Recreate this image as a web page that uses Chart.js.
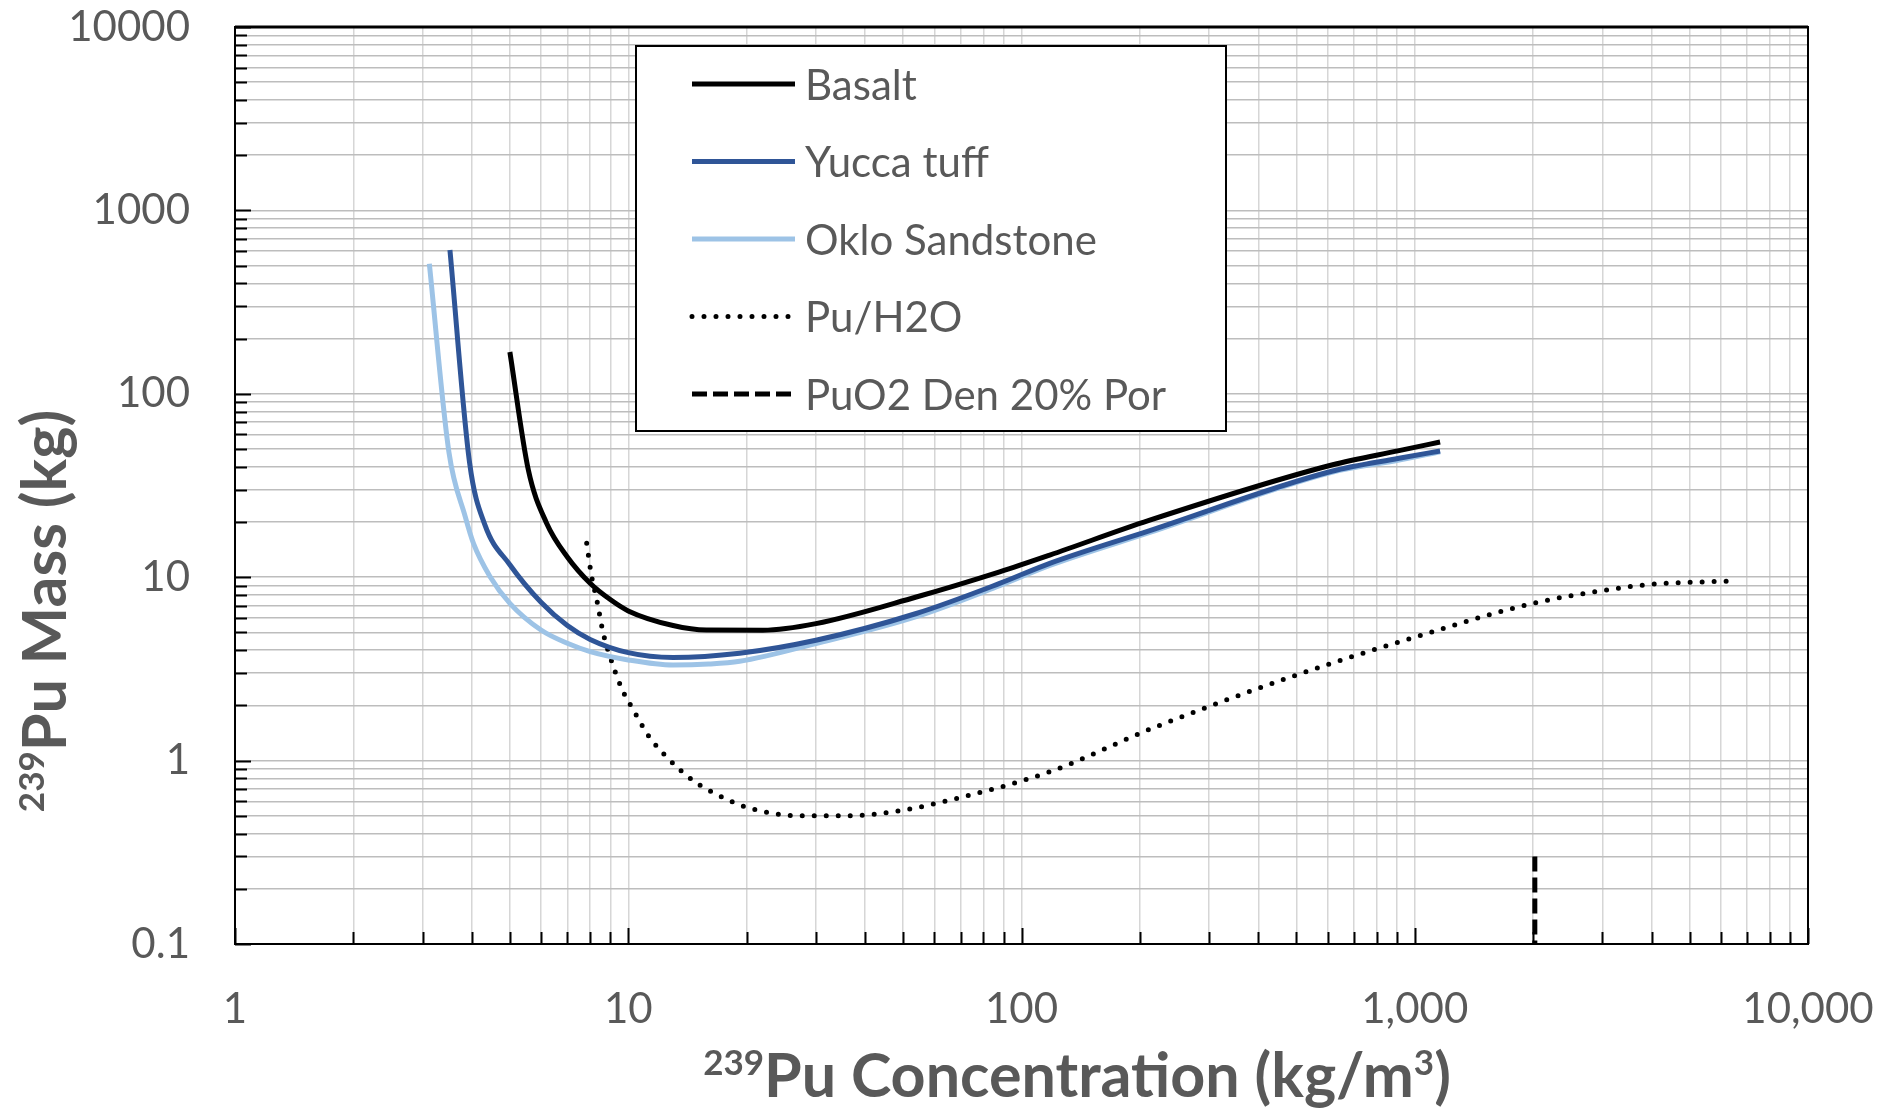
<!DOCTYPE html>
<html>
<head>
<meta charset="utf-8">
<title>239Pu mass vs concentration</title>
<script src="https://cdn.jsdelivr.net/npm/chart.js@4.4.1/dist/chart.umd.min.js"></script>
<style>
  html, body { margin: 0; padding: 0; background: #fff; }
  #wrap { width: 1888px; height: 1108px; position: relative; }
</style>
</head>
<body>
<div id="wrap"><canvas id="chart"></canvas></div>
<script>
// --- data (x: kg/m3, y: kg) ---
const basaltX = [5.0, 5.57, 6.2, 7, 8, 9, 10, 13, 15.8, 22, 30, 54, 88, 118, 211, 615, 912, 1160];
const basaltY = [169, 38.5, 19.7, 12.9, 9.27, 7.55, 6.55, 5.45, 5.15, 5.14, 5.58, 7.8, 10.7, 13.2, 20.4, 40.9, 49, 54.6];

const yuccaX = [3.52, 3.95, 4.32, 5.0, 6, 7, 8, 10, 13, 19.2, 30, 54, 88, 118, 211, 615, 912, 1160];
const yuccaY = [608, 42, 19.3, 11.7, 7.3, 5.45, 4.58, 3.88, 3.65, 3.85, 4.53, 6.34, 9.25, 11.9, 17.9, 37.8, 44.5, 48.8];

const okloX = [3.12, 3.5, 3.85, 4.04, 4.45, 5, 6, 7, 8, 10, 13, 16, 19.2, 30, 54, 88, 118, 211, 615, 912, 1160];
const okloY = [512, 48, 21.4, 15.3, 10.1, 7.2, 5.15, 4.36, 3.93, 3.54, 3.32, 3.36, 3.48, 4.35, 6.1, 9.0, 11.6, 17.5, 37.3, 43.5, 48.3];

const puH2oX = [7.84, 8.07, 8.32, 8.64, 8.99, 9.62, 10.3, 11.3, 12.5, 14.6, 17.4, 20.4, 27.3, 36.5, 49.9, 65.6, 117.6, 215, 498, 912, 1988, 3110, 3936, 6530];
const puH2oY = [15.3, 10.1, 7.5, 4.94, 3.69, 2.48, 1.89, 1.35, 1.05, 0.78, 0.63, 0.55, 0.50, 0.50, 0.537, 0.608, 0.867, 1.50, 2.92, 4.43, 7.18, 8.55, 9.12, 9.55];

const puo2X = [2020, 2020];
const puo2Y = [0.3, 0.1];

const seriesLabels = ['Basalt', 'Yucca tuff', 'Oklo Sandstone', 'Pu/H2O', 'PuO2 Den 20% Por'];

const xTickValues = [1, 10, 100, 1000, 10000];
const xTickLabels = ['1', '10', '100', '1,000', '10,000'];
const yTickValues = [0.1, 1, 10, 100, 1000, 10000];
const yTickLabels = ['0.1', '1', '10', '100', '1000', '10000'];

// helpers
const pts = (xs, ys) => xs.map((x, i) => ({ x, y: ys[i] }));
const logTicks = (majors) => {
    const out = [];
    majors.forEach((m, i) => {
        out.push(m);
        if (i < majors.length - 1) for (let k = 2; k <= 9; k++) out.push(+(m * k).toPrecision(6));
    });
    return out;
};
const isMajor = (majors, v) => majors.some(m => Math.abs(m - v) / m < 1e-6);
const labelFor = (majors, labels, v) => {
    const i = majors.findIndex(m => Math.abs(m - v) / m < 1e-6);
    return i >= 0 ? labels[i] : '';
};
// tick label overflow must not push the plot area around
const noOverflow = s => { s.paddingTop = 0; s.paddingBottom = 0; s.paddingLeft = 0; s.paddingRight = 0; };

const TEXT = '#595959';
const FONT = 'Lato, "Open Sans", sans-serif';
Chart.defaults.font.family = FONT;
Chart.defaults.color = TEXT;

// tick marks pointing inward + plot frame
const innerTicks = {
    id: 'innerTicks',
    afterDatasetsDraw(chart) {
        const { ctx, chartArea: a, scales: { x, y } } = chart;
        ctx.save();
        ctx.strokeStyle = '#000';
        ctx.lineWidth = 2;
        ctx.beginPath();
        logTicks(xTickValues).forEach(v => {
            const px = Math.round(x.getPixelForValue(v)) + 0.5;
            const len = isMajor(xTickValues, v) ? 16 : 12;
            ctx.moveTo(px, a.bottom); ctx.lineTo(px, a.bottom - len);
        });
        logTicks(yTickValues).forEach(v => {
            const py = Math.round(y.getPixelForValue(v)) + 0.5;
            const len = isMajor(yTickValues, v) ? 16 : 12;
            ctx.moveTo(a.left, py); ctx.lineTo(a.left + len, py);
        });
        ctx.stroke();
        ctx.strokeRect(a.left, a.top, a.right - a.left, a.bottom - a.top);
        ctx.lineWidth = 3;
        ctx.beginPath(); ctx.moveTo(a.left, a.top); ctx.lineTo(a.right, a.top); ctx.stroke();
        ctx.restore();
    }
};

// axis titles with superscripts
const drawParts = (ctx, parts, cx, baseY) => {
    const big = `bold 61px ${FONT}`, small = `bold 35px ${FONT}`;
    const w = parts.reduce((s, p) => { ctx.font = p.sup ? small : big; return s + ctx.measureText(p.t).width; }, 0);
    let x = cx - w / 2;
    parts.forEach(p => {
        ctx.font = p.sup ? small : big;
        ctx.fillText(p.t, x, p.sup ? baseY - 22 : baseY);
        x += ctx.measureText(p.t).width;
    });
};
const axisTitles = {
    id: 'axisTitles',
    afterDraw(chart) {
        const { ctx } = chart;
        ctx.save();
        ctx.fillStyle = TEXT;
        ctx.textAlign = 'left';
        ctx.textBaseline = 'alphabetic';
        drawParts(ctx, [{ t: '239', sup: true }, { t: 'Pu Concentration (kg/m' }, { t: '3', sup: true }, { t: ')' }], 1077, 1097);
        ctx.translate(66, 611);
        ctx.rotate(-Math.PI / 2);
        drawParts(ctx, [{ t: '239', sup: true }, { t: 'Pu Mass (kg)' }], 0, 0);
        ctx.restore();
    }
};

// boxed legend inside the plot
const boxLegend = {
    id: 'boxLegend',
    afterDraw(chart) {
        const { ctx } = chart;
        const box = { l: 636, t: 46, r: 1226, b: 431 };
        ctx.save();
        ctx.fillStyle = '#fff';
        ctx.fillRect(box.l, box.t, box.r - box.l, box.b - box.t);
        ctx.strokeStyle = '#000';
        ctx.lineWidth = 2;
        ctx.strokeRect(box.l, box.t, box.r - box.l, box.b - box.t);
        chart.data.datasets.forEach((ds, i) => {
            const yc = 84 + i * 77.5;
            ctx.strokeStyle = ds.borderColor;
            ctx.lineWidth = ds.borderWidth;
            ctx.lineCap = ds.borderCapStyle || 'butt';
            ctx.setLineDash(ds.borderDash || []);
            ctx.beginPath(); ctx.moveTo(692, yc); ctx.lineTo(795, yc); ctx.stroke();
            ctx.setLineDash([]);
            ctx.fillStyle = TEXT;
            ctx.font = `42px ${FONT}`;
            ctx.textBaseline = 'middle';
            ctx.fillText(ds.label, 805, yc + 2);
        });
        ctx.restore();
    }
};

const curve = (label, xs, ys, color, extra = {}) => Object.assign({
    label, data: pts(xs, ys), borderColor: color, backgroundColor: color,
    borderWidth: 5, pointRadius: 0, fill: false, cubicInterpolationMode: 'monotone'
}, extra);

new Chart(document.getElementById('chart'), {
    type: 'line',
    data: {
        datasets: [
            curve(seriesLabels[0], basaltX, basaltY, '#000000'),
            curve(seriesLabels[1], yuccaX, yuccaY, '#2f5597'),
            curve(seriesLabels[2], okloX, okloY, '#9dc3e6'),
            curve(seriesLabels[3], puH2oX, puH2oY, '#000000', { borderDash: [0, 12], borderCapStyle: 'round', borderWidth: 5 }),
            curve(seriesLabels[4], puo2X, puo2Y, '#000000', { borderDash: [15, 6], borderWidth: 5, cubicInterpolationMode: 'default', tension: 0 })
        ]
    },
    options: {
        responsive: true,
        maintainAspectRatio: false,
        animation: false,
        layout: { padding: { left: 0, top: 27, right: 80, bottom: 0 } },
        plugins: { legend: { display: false }, tooltip: { enabled: false } },
        scales: {
            x: {
                type: 'logarithmic', min: 1, max: 10000,
                afterBuildTicks: s => { s.ticks = logTicks(xTickValues).map(value => ({ value })); },
                afterFit: s => { s.height = 164; noOverflow(s); },
                ticks: {
                    autoSkip: false, maxRotation: 0, minRotation: 0, padding: 40,
                    font: { size: 42 }, color: TEXT,
                    callback: v => labelFor(xTickValues, xTickLabels, v)
                },
                grid: { color: '#d6d6d6', lineWidth: 1.5, drawTicks: false },
                border: { display: false }
            },
            y: {
                type: 'logarithmic', min: 0.1, max: 10000,
                afterBuildTicks: s => { s.ticks = logTicks(yTickValues).map(value => ({ value })); },
                afterFit: s => { s.width = 235; noOverflow(s); },
                ticks: {
                    autoSkip: false, padding: 45,
                    font: { size: 42 }, color: TEXT,
                    callback: v => labelFor(yTickValues, yTickLabels, v)
                },
                grid: { color: '#bdbdbd', lineWidth: 1.5, drawTicks: false },
                border: { display: false }
            }
        }
    },
    plugins: [innerTicks, axisTitles, boxLegend]
});
</script>
</body>
</html>
